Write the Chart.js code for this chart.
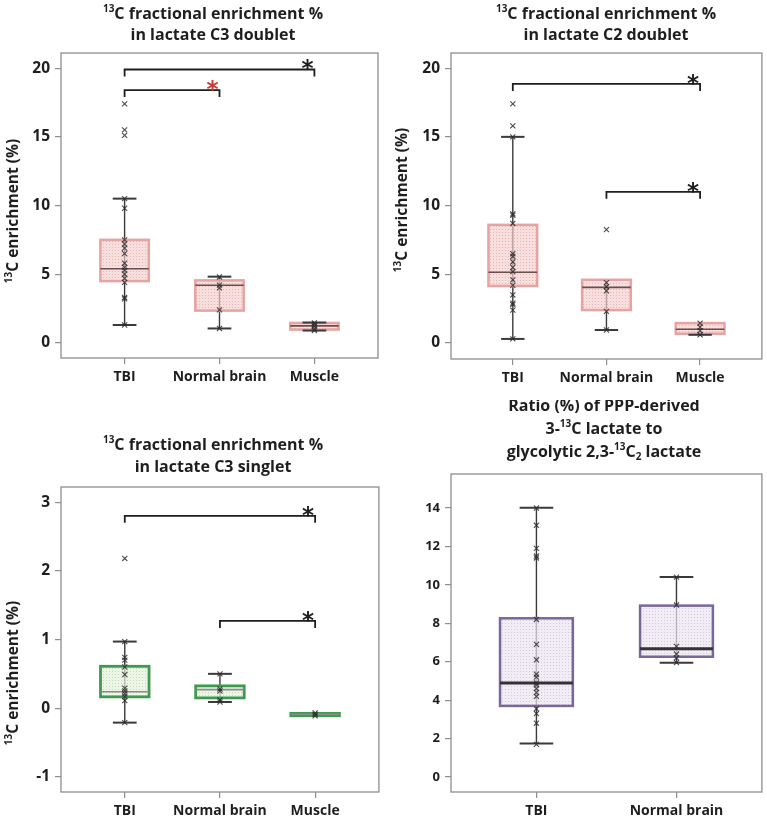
<!DOCTYPE html>
<html lang="en">
<head>
<meta charset="UTF-8">
<title>13C lactate enrichment</title>
<script src="https://cdn.jsdelivr.net/npm/chart.js@4.4.1/dist/chart.umd.min.js"></script>
<style>
  body { margin: 0; background: #fff; }
  #fig { position: relative; width: 767px; height: 823px; }
  #fig canvas { position: absolute; }
</style>
</head>
<body>
<div id="fig">
  <canvas id="c3d" width="384" height="400" style="left:0;top:0"></canvas>
  <canvas id="c2d" width="383" height="400" style="left:384px;top:0"></canvas>
  <canvas id="c3s" width="384" height="423" style="left:0;top:400px"></canvas>
  <canvas id="ratio" width="383" height="423" style="left:384px;top:400px"></canvas>
</div>
<script>
const groups3 = ['TBI', 'Normal brain', 'Muscle'];
const groups2 = ['TBI', 'Normal brain'];

// lactate C3 doublet, 13C enrichment (%)
const c3dTbi = [17.4, 15.5, 15.1, 10.5, 9.8, 7.5, 7.2, 6.9, 6.5, 5.8, 5.5, 5.3, 5.0, 4.7, 4.4, 3.3, 3.2, 1.3];
const c3dBrain = [4.8, 4.2, 4.0, 2.4, 1.05];
const c3dMuscle = [1.45, 1.3, 1.2, 1.0, 0.9];
const c3dLow = [1.3, 1.05, 0.9];
const c3dQ1 = [4.5, 2.35, 0.97];
const c3dMedian = [5.4, 4.2, 1.24];
const c3dQ3 = [7.5, 4.55, 1.45];
const c3dHigh = [10.5, 4.82, 1.48];
const c3dTicks = [0, 5, 10, 15, 20];
const c3dPairs = [[0, 2], [0, 1]];
const c3dBracketY = [19.9, 18.4];

// lactate C2 doublet
const c2dTbi = [17.4, 15.8, 15.0, 9.4, 9.3, 8.7, 6.5, 6.3, 5.9, 5.5, 5.2, 4.6, 4.2, 3.5, 2.9, 2.8, 2.4, 0.3];
const c2dBrain = [8.25, 4.4, 4.1, 3.8, 2.3, 0.95];
const c2dMuscle = [1.45, 1.15, 0.9, 0.6];
const c2dLow = [0.3, 0.95, 0.6];
const c2dQ1 = [4.15, 2.4, 0.68];
const c2dMedian = [5.15, 4.05, 1.0];
const c2dQ3 = [8.6, 4.6, 1.45];
const c2dHigh = [15.0, 4.6, 1.45];
const c2dTicks = [0, 5, 10, 15, 20];
const c2dPairs = [[0, 2], [1, 2]];
const c2dBracketY = [18.85, 11.0];

// lactate C3 singlet
const c3sTbi = [2.18, 0.97, 0.74, 0.70, 0.60, 0.49, 0.29, 0.25, 0.21, 0.17, 0.11, -0.21];
const c3sBrain = [0.5, 0.28, 0.25, 0.12, 0.09];
const c3sMuscle = [-0.07, -0.09, -0.11];
const c3sLow = [-0.21, 0.09, -0.11];
const c3sQ1 = [0.165, 0.15, -0.11];
const c3sMedian = [0.24, 0.27, -0.09];
const c3sQ3 = [0.61, 0.325, -0.075];
const c3sHigh = [0.97, 0.5, -0.075];
const c3sTicks = [-1, 0, 1, 2, 3];
const c3sPairs = [[0, 2], [1, 2]];
const c3sBracketY = [2.8, 1.27];

// PPP-derived / glycolytic lactate ratio (%)
const ratioTbi = [14.0, 13.1, 11.9, 11.5, 11.4, 8.2, 6.9, 6.1, 5.35, 5.2, 4.9, 4.8, 4.6, 4.4, 4.2, 3.55, 3.3, 2.8, 1.7];
const ratioBrain = [10.4, 8.95, 6.8, 6.4, 6.2, 5.95];
const ratioLow = [1.75, 5.95];
const ratioQ1 = [3.7, 6.26];
const ratioMedian = [4.89, 6.68];
const ratioQ3 = [8.26, 8.92];
const ratioHigh = [14.02, 10.41];
const ratioTicks = [0, 2, 4, 6, 8, 10, 12, 14];

const TEXT = '#1e1e1e';
const FONT = '"Open Sans"';

const red = { edge: '#e6a3a1', bg: 'rgba(244,208,206,0.8)', dot: 'rgba(210,135,133,0.55)', median: '#6a4d4d', medianW: 1.6, edgeW: 2.5 };
const green = { edge: '#3e9a4f', bg: 'rgba(228,241,220,0.85)', dot: 'rgba(150,196,140,0.6)', median: '#8a8a8a', medianW: 1.6, edgeW: 2.8 };
const purple = { edge: '#77679a', bg: 'rgba(236,228,241,0.85)', dot: 'rgba(185,168,204,0.6)', median: '#333333', medianW: 3, edgeW: 2.5 };

const sup13 = ['13', 'sup'];

const panels = [
  {
    id: 'c3d', area: [61, 53, 378, 358], groups: groups3,
    points: [c3dTbi, c3dBrain, c3dMuscle],
    stats: { low: c3dLow, q1: c3dQ1, med: c3dMedian, q3: c3dQ3, high: c3dHigh },
    yRange: [-1.1, 21.1], xRange: [-0.67, 2.67], yTicks: c3dTicks, tickSize: 15.5,
    title: [[sup13, ['C fractional enrichment %']], [['in lactate C3 doublet']]],
    titleX: 213, titleY: [18.5, 40], yTitle: [12, 211],
    boxHalf: 0.255, capHalf: 0.125, look: red,
    pairs: c3dPairs, bracketY: c3dBracketY, starColors: [TEXT, '#c83a30']
  },
  {
    id: 'c2d', area: [67, 53, 378, 359], groups: groups3,
    points: [c2dTbi, c2dBrain, c2dMuscle],
    stats: { low: c2dLow, q1: c2dQ1, med: c2dMedian, q3: c2dQ3, high: c2dHigh },
    yRange: [-1.16, 21.1], xRange: [-0.66, 2.66], yTicks: c2dTicks, tickSize: 15.5,
    title: [[sup13, ['C fractional enrichment %']], [['in lactate C2 doublet']]],
    titleX: 222, titleY: [18.5, 40], yTitle: [17, 200],
    boxHalf: 0.26, capHalf: 0.125, look: red,
    pairs: c2dPairs, bracketY: c2dBracketY, starColors: [TEXT, TEXT]
  },
  {
    id: 'c3s', area: [61, 87, 379, 392], groups: groups3,
    points: [c3sTbi, c3sBrain, c3sMuscle],
    stats: { low: c3sLow, q1: c3sQ1, med: c3sMedian, q3: c3sQ3, high: c3sHigh },
    yRange: [-1.22, 3.22], xRange: [-0.67, 2.67], yTicks: c3sTicks, tickSize: 15.5,
    title: [[sup13, ['C fractional enrichment %']], [['in lactate C3 singlet']]],
    titleX: 213, titleY: [49.5, 71.5], yTitle: [12, 273],
    boxHalf: 0.255, capHalf: 0.125, look: green,
    pairs: c3sPairs, bracketY: c3sBracketY, starColors: [TEXT, TEXT]
  },
  {
    id: 'ratio', area: [67, 74, 378, 392], groups: groups2,
    points: [ratioTbi, ratioBrain],
    stats: { low: ratioLow, q1: ratioQ1, med: ratioMedian, q3: ratioQ3, high: ratioHigh },
    yRange: [-0.78, 15.77], xRange: [-0.61, 1.61], yTicks: ratioTicks, tickSize: 13,
    title: [[['Ratio (%) of PPP-derived']], [['3-'], sup13, ['C lactate to']],
            [['glycolytic 2,3-'], sup13, ['C'], ['2', 'sub'], [' lactate']]],
    titleX: 220, titleY: [11, 33.5, 56.5], yTitle: null,
    boxHalf: 0.26, capHalf: 0.12, look: purple,
    pairs: [], bracketY: [], starColors: []
  }
];

// text with super/subscripts
function drawRich(ctx, parts, x, y, size) {
  const fontFor = k => 'bold ' + (k ? Math.round(size * 0.62) : size) + 'px ' + FONT;
  let w = 0;
  parts.forEach(([t, k]) => { ctx.font = fontFor(k); w += ctx.measureText(t).width; });
  let px = x - w / 2;
  ctx.textAlign = 'left';
  ctx.textBaseline = 'alphabetic';
  parts.forEach(([t, k]) => {
    ctx.font = fontFor(k);
    const dy = k === 'sup' ? -size * 0.38 : k === 'sub' ? size * 0.2 : 0;
    ctx.fillText(t, px, y + dy);
    px += ctx.measureText(t).width;
  });
}

function stipple(ctx, bg, dot) {
  const c = document.createElement('canvas');
  c.width = 3; c.height = 3;
  const g = c.getContext('2d');
  g.fillStyle = bg; g.fillRect(0, 0, 3, 3);
  g.fillStyle = dot; g.fillRect(1, 1, 1, 1);
  return ctx.createPattern(c, 'repeat');
}

function boxPlugin(p) {
  return {
    id: 'box_' + p.id,
    beforeDatasetsDraw(chart) {
      const { ctx, scales: { x, y } } = chart;
      const s = p.stats, look = p.look;
      const fill = stipple(ctx, look.bg, look.dot);
      ctx.save();
      s.low.forEach((lo, i) => {
        const cx = x.getPixelForValue(i);
        const half = x.getPixelForValue(i + p.boxHalf) - cx;
        const cap = x.getPixelForValue(i + p.capHalf) - cx;
        const yLo = y.getPixelForValue(lo), yHi = y.getPixelForValue(s.high[i]);
        const yQ1 = y.getPixelForValue(s.q1[i]), yQ3 = y.getPixelForValue(s.q3[i]);
        const yMed = y.getPixelForValue(s.med[i]);
        // whisker
        ctx.strokeStyle = '#3a3a3a';
        ctx.lineWidth = 1.4;
        ctx.beginPath(); ctx.moveTo(cx, yLo); ctx.lineTo(cx, yHi); ctx.stroke();
        // box
        ctx.fillStyle = fill;
        ctx.globalAlpha = 0.85;
        ctx.fillRect(cx - half, yQ3, 2 * half, yQ1 - yQ3);
        ctx.globalAlpha = 1;
        ctx.strokeStyle = look.edge;
        ctx.lineWidth = look.edgeW;
        ctx.strokeRect(cx - half, yQ3, 2 * half, yQ1 - yQ3);
        // median
        ctx.strokeStyle = look.median;
        ctx.lineWidth = look.medianW;
        ctx.beginPath(); ctx.moveTo(cx - half, yMed); ctx.lineTo(cx + half, yMed); ctx.stroke();
        // caps
        ctx.strokeStyle = '#3a3a3a';
        ctx.lineWidth = 2;
        if (s.high[i] > s.q3[i]) {
          ctx.beginPath(); ctx.moveTo(cx - cap, yHi); ctx.lineTo(cx + cap, yHi); ctx.stroke();
        }
        if (lo < s.q1[i]) {
          ctx.beginPath(); ctx.moveTo(cx - cap, yLo); ctx.lineTo(cx + cap, yLo); ctx.stroke();
        }
      });
      ctx.restore();
    },
    afterDatasetsDraw(chart) {
      const { ctx, scales: { x, y } } = chart;
      ctx.save();
      p.pairs.forEach(([a, b], i) => {
        const x1 = x.getPixelForValue(a), x2 = x.getPixelForValue(b);
        const yy = y.getPixelForValue(p.bracketY[i]);
        ctx.strokeStyle = TEXT;
        ctx.lineWidth = 1.8;
        ctx.beginPath();
        ctx.moveTo(x1, yy + 7); ctx.lineTo(x1, yy); ctx.lineTo(x2, yy); ctx.lineTo(x2, yy + 7);
        ctx.stroke();
        ctx.fillStyle = p.starColors[i];
        ctx.font = 'bold 23px "DejaVu Sans"';
        ctx.textAlign = 'center';
        ctx.textBaseline = 'alphabetic';
        ctx.fillText('*', x2 - 7, yy + 7);
      });
      ctx.restore();
    },
    afterDraw(chart) {
      const { ctx, chartArea: a } = chart;
      ctx.save();
      // frame
      ctx.strokeStyle = '#8e8e8e';
      ctx.lineWidth = 1.3;
      ctx.strokeRect(a.left, a.top, a.right - a.left, a.bottom - a.top);
      ctx.fillStyle = TEXT;
      p.title.forEach((line, i) => drawRich(ctx, line, p.titleX, p.titleY[i], 16));
      if (p.yTitle) {
        ctx.translate(p.yTitle[0], p.yTitle[1]);
        ctx.rotate(-Math.PI / 2);
        drawRich(ctx, [sup13, ['C enrichment (%)']], 0, 5.5, 15.5);
      }
      ctx.restore();
    }
  };
}

panels.forEach(p => {
  const el = document.getElementById(p.id);
  const [left, top, right, bottom] = p.area;
  new Chart(el, {
    type: 'scatter',
    data: {
      datasets: p.points.map((vals, i) => ({
        data: vals.map(v => ({ x: i, y: v })),
        pointStyle: 'crossRot',
        pointRadius: 3.6,
        borderColor: 'rgba(45,45,45,0.85)',
        borderWidth: 1.1
      }))
    },
    options: {
      responsive: false,
      animation: false,
      events: [],
      layout: { padding: { top: top, right: el.width - right, left: 0, bottom: 0 } },
      plugins: { legend: { display: false }, tooltip: { enabled: false } },
      scales: {
        x: {
          type: 'linear', min: p.xRange[0], max: p.xRange[1],
          afterFit: s => { s.height = el.height - bottom; },
          afterBuildTicks: s => { s.ticks = p.groups.map((g, i) => ({ value: i })); },
          ticks: {
            callback: v => p.groups[v], autoSkip: false, maxRotation: 0,
            font: { family: FONT, size: 14, weight: 'bold' }, color: TEXT, padding: 5
          },
          grid: { drawOnChartArea: false, tickLength: 6, color: '#8e8e8e', lineWidth: 1.2 },
          border: { display: false }
        },
        y: {
          type: 'linear', min: p.yRange[0], max: p.yRange[1],
          afterFit: s => { s.width = left; },
          afterBuildTicks: s => { s.ticks = p.yTicks.map(v => ({ value: v })); },
          ticks: { font: { family: FONT, size: p.tickSize, weight: 'bold' }, color: TEXT, padding: 5 },
          grid: { drawOnChartArea: false, tickLength: 6, color: '#8e8e8e', lineWidth: 1.2 },
          border: { display: false }
        }
      }
    },
    plugins: [boxPlugin(p)]
  });
});
</script>
</body>
</html>
